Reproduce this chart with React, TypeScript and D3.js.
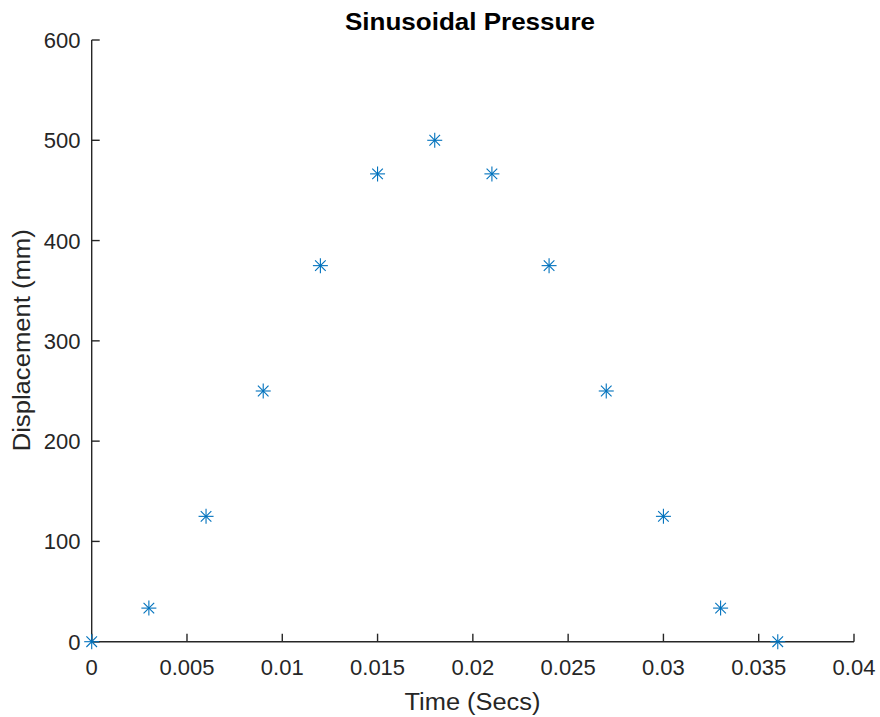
import React from "react";
import * as d3 from "d3";

const timeValues = [0, 0.003, 0.006, 0.009, 0.012, 0.015, 0.018, 0.021, 0.024, 0.027, 0.03, 0.033, 0.036];
const displacementValues = [0, 33.5, 125, 250, 375, 466.5, 500, 466.5, 375, 250, 125, 33.5, 0];
const xTicks = [0, 0.005, 0.01, 0.015, 0.02, 0.025, 0.03, 0.035, 0.04];
const xTickLabels = ["0", "0.005", "0.01", "0.015", "0.02", "0.025", "0.03", "0.035", "0.04"];
const yTicks = [0, 100, 200, 300, 400, 500, 600];
const yTickLabels = ["0", "100", "200", "300", "400", "500", "600"];
const titleText = "Sinusoidal Pressure";
const xLabelText = "Time (Secs)";
const yLabelText = "Displacement (mm)";

const W = 880;
const H = 717;
const left = 91.7;
const right = 854;
const top = 40;
const bottom = 641.7;
const axisColor = "#262626";
const markerColor = "#0072BD";
const font = "'Liberation Sans', Arial, Helvetica, sans-serif";

export default function App() {
  const x = d3.scaleLinear().domain([0, 0.04]).range([left, right]);
  const y = d3.scaleLinear().domain([0, 600]).range([bottom, top]);
  const tickLen = 8;
  const r = 7.5;
  const rd = 5.3;
  return (
    <svg width={W} height={H} style={{ position: "absolute", left: 0, top: 0, background: "#fff" }}>
      <rect x={0} y={0} width={W} height={H} fill="#fff" />
      <line x1={left} x2={left} y1={top} y2={bottom} stroke={axisColor} strokeWidth={1.4} />
      <line x1={left} x2={right} y1={bottom} y2={bottom} stroke={axisColor} strokeWidth={1.4} />
      {xTicks.map((t, i) => (
        <g key={"xt" + i}>
          <line x1={x(t)} x2={x(t)} y1={bottom} y2={bottom - tickLen} stroke={axisColor} strokeWidth={1.4} />
          <text x={x(t)} y={675} textAnchor="middle" fontFamily={font} fontSize={22} fill={axisColor}>
            {xTickLabels[i]}
          </text>
        </g>
      ))}
      {yTicks.map((t, i) => (
        <g key={"yt" + i}>
          <line x1={left} x2={left + tickLen} y1={y(t)} y2={y(t)} stroke={axisColor} strokeWidth={1.4} />
          <text x={80.5} y={y(t) + 8} textAnchor="end" fontFamily={font} fontSize={22} fill={axisColor}>
            {yTickLabels[i]}
          </text>
        </g>
      ))}
      <text x={472.5} y={710} textAnchor="middle" fontFamily={font} fontSize={23.5} fill={axisColor}
        textLength={136} lengthAdjust="spacingAndGlyphs">
        {xLabelText}
      </text>
      <text
        transform={`translate(30, ${(top + bottom) / 2 - 0.5}) rotate(-90)`}
        textAnchor="middle"
        fontFamily={font}
        fontSize={23.5}
        fill={axisColor}
        textLength={222}
        lengthAdjust="spacingAndGlyphs"
      >
        {yLabelText}
      </text>
      <text x={470} y={30} textAnchor="middle" fontFamily={font} fontSize={23} fontWeight="bold" fill="#000"
        textLength={250} lengthAdjust="spacingAndGlyphs">
        {titleText}
      </text>
      {timeValues.map((t, i) => {
        const cx = x(t);
        const cy = y(displacementValues[i]);
        return (
          <g key={"m" + i} stroke={markerColor} strokeWidth={1.1}>
            <line x1={cx - r} x2={cx + r} y1={cy} y2={cy} />
            <line x1={cx} x2={cx} y1={cy - r} y2={cy + r} />
            <line x1={cx - rd} x2={cx + rd} y1={cy - rd} y2={cy + rd} />
            <line x1={cx - rd} x2={cx + rd} y1={cy + rd} y2={cy - rd} />
          </g>
        );
      })}
    </svg>
  );
}
